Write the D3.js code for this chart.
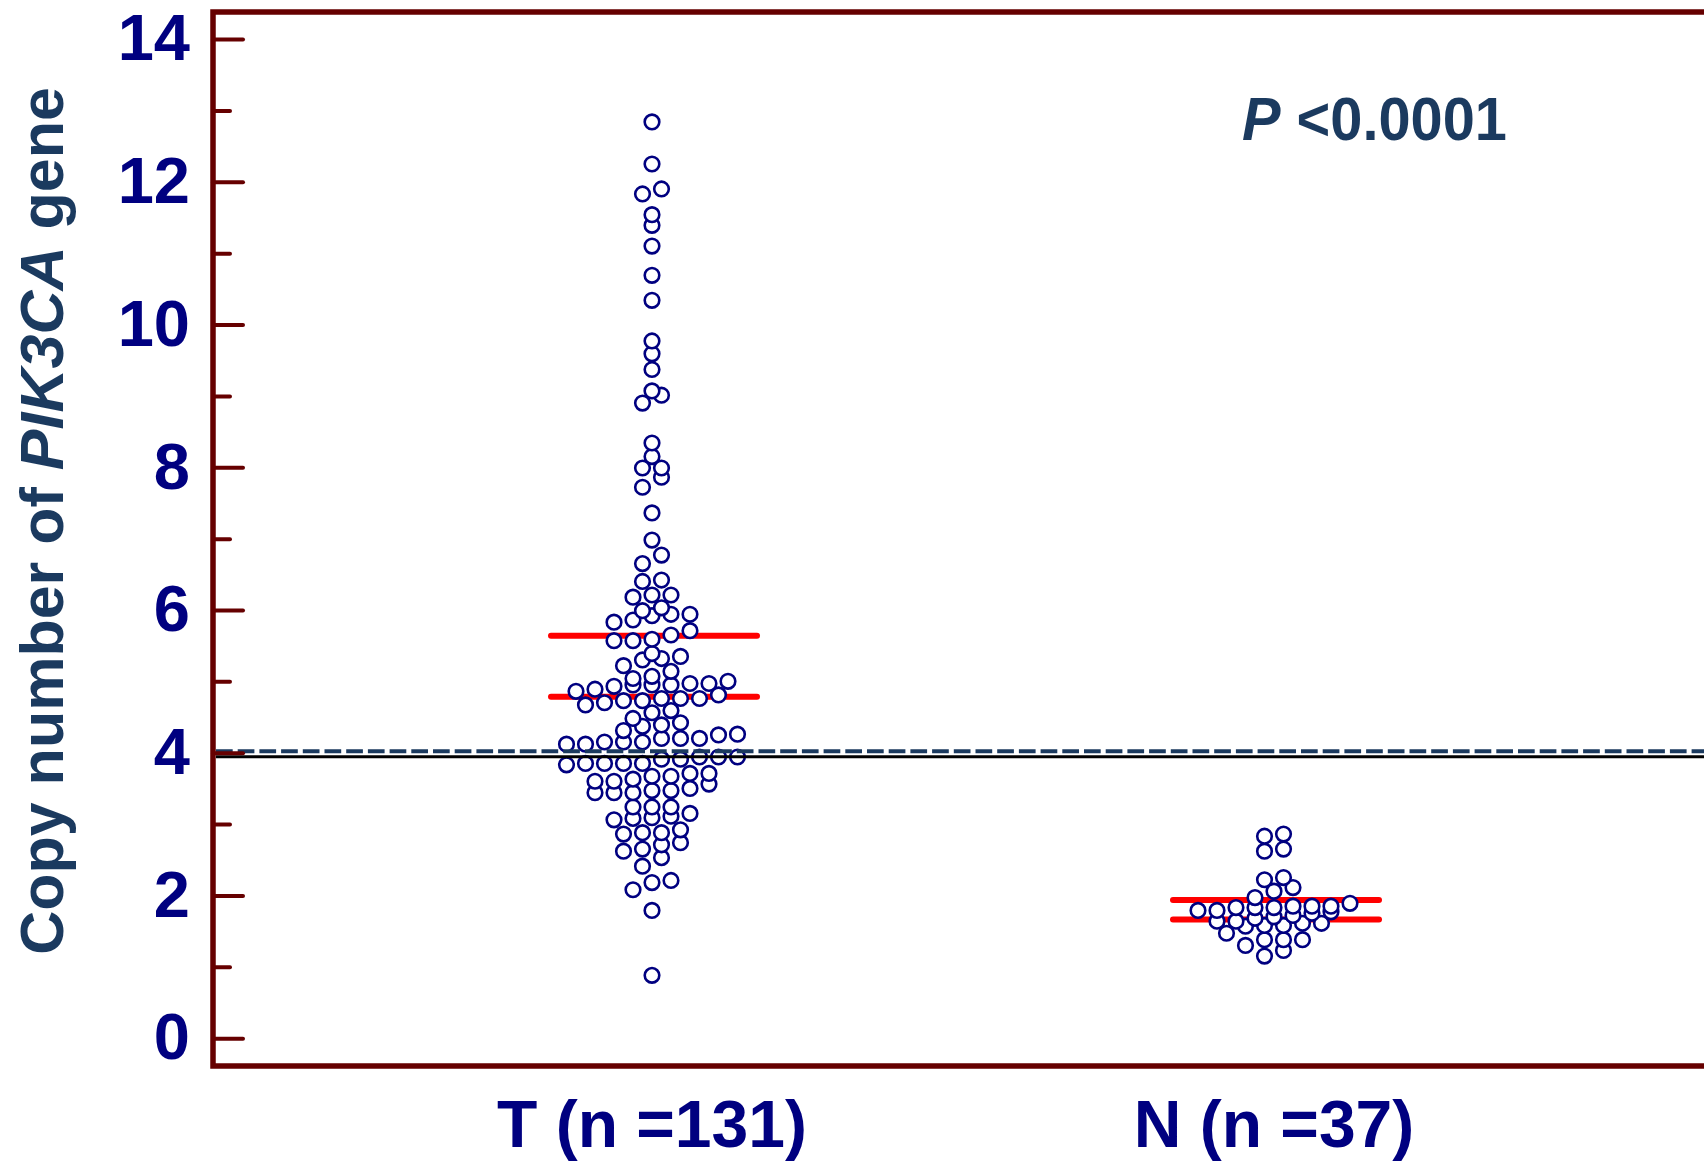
<!DOCTYPE html>
<html>
<head>
<meta charset="utf-8">
<script src="https://cdn.jsdelivr.net/npm/d3@7"></script>
<style>
  body { margin: 0; background: #fff; }
  svg text { font-family: "Liberation Sans", Arial, sans-serif; font-weight: bold; }
</style>
</head>
<body>
<div id="chart"></div>
<script>
const groups = ["T", "N"];
const groupLabels = ["T (n =131)", "N (n =37)"];

// copy numbers
const tumourValues = [
  12.84, 12.25, 11.83, 11.90, 11.54, 11.39, 11.10, 10.69, 10.34, 9.77, 9.59, 9.37,
  8.90, 9.01, 9.07, 8.34, 8.15, 7.99, 7.99, 7.72, 7.86, 7.36, 6.98, 6.65, 6.77,
  6.40, 6.42, 6.18, 6.21, 6.21, 5.99, 6.03, 5.83, 5.86, 5.92, 5.94, 5.94,
  5.57, 5.57, 5.59, 5.65, 5.71, 5.39, 5.22, 5.30, 5.32, 5.35, 5.04, 5.07, 5.14,
  4.86, 4.89, 4.93, 4.95, 4.95, 4.95, 4.97, 4.97, 5.00,
  4.67, 4.70, 4.73, 4.73, 4.76, 4.76, 4.76, 4.81,
  4.48, 4.56, 4.59, 4.31, 4.37, 4.39, 4.42,
  4.12, 4.12, 4.15, 4.15, 4.15, 4.20, 4.20, 4.20, 4.25, 4.26,
  3.83, 3.85, 3.85, 3.85, 3.85, 3.91, 3.91, 3.94, 3.94, 3.94,
  3.60, 3.60, 3.63, 3.67, 3.67, 3.71, 3.71,
  3.44, 3.44, 3.44, 3.47, 3.47, 3.50, 3.56,
  3.24, 3.24, 3.24, 3.06, 3.08, 3.09, 3.11, 3.15,
  2.86, 2.88, 2.88, 2.92, 2.62, 2.65, 2.71, 2.74,
  2.41, 2.53, 2.08, 2.18, 2.21, 1.79, 0.88
];
const normalValues = [
  2.83, 2.86, 2.62, 2.65, 2.22, 2.25, 1.97, 2.06, 2.11,
  1.79, 1.79, 1.83, 1.83, 1.83, 1.85, 1.85, 1.85, 1.89,
  1.64, 1.64, 1.68, 1.70, 1.72, 1.75, 1.77,
  1.47, 1.57, 1.58, 1.58, 1.61, 1.61,
  1.30, 1.38, 1.38, 1.38, 1.15, 1.23
];
const meanValues = [5.64, 1.935];
const medianValues = [4.785, 1.664];
const cutoff = 4;
const majorTicks = [0, 2, 4, 6, 8, 10, 12, 14];
const minorTicks = [1, 3, 5, 7, 9, 11, 13];
const pText = "<0.0001";

const W = 1704, H = 1162;
const plotLeft = 213, plotTop = 12, plotBottom = 1066;
const navy = "#000080", slate = "#1b3a5f", frame = "#660000";

const svg = d3.select("#chart").append("svg")
  .attr("width", W).attr("height", H);

const y = d3.scaleLinear().domain([-0.39, 14.38]).range([plotBottom, plotTop]);
const x = d3.scalePoint().domain(groups).range([652, 1274]);

// rows of nearly equal values are spread sideways, sorted left to right
function swarm(values, group) {
  const sorted = values.slice().sort(d3.ascending);
  const rows = [];
  let cur = null;
  sorted.forEach(v => {
    if (!cur || v - cur.start >= 0.145 - 1e-9) { cur = { start: v, items: [] }; rows.push(cur); }
    cur.items.push(v);
  });
  return rows.flatMap(r => r.items.map((v, i) => ({
    group, value: v, slot: i - (r.items.length - 1) / 2
  })));
}
const points = swarm(tumourValues, "T").concat(swarm(normalValues, "N"));

// red summary lines
const lines = groups.flatMap((g, i) => [meanValues[i], medianValues[i]].map(v => ({ g, v })));
svg.append("g").selectAll("line").data(lines).enter().append("line")
  .attr("x1", d => x(d.g) - 101).attr("x2", d => x(d.g) + 105)
  .attr("y1", d => y(d.v)).attr("y2", d => y(d.v))
  .attr("stroke", "#ff0000").attr("stroke-width", 6).attr("stroke-linecap", "round");

svg.append("g").selectAll("circle").data(points).enter().append("circle")
  .attr("cx", d => x(d.group) + d.slot * 19)
  .attr("cy", d => y(d.value))
  .attr("r", 7.3)
  .attr("fill", "#fff")
  .attr("stroke", navy)
  .attr("stroke-width", 2.6);

// cut-off at 4 copies
svg.append("line")
  .attr("x1", plotLeft + 3).attr("x2", W)
  .attr("y1", y(cutoff) + 4).attr("y2", y(cutoff) + 4)
  .attr("stroke", "#000").attr("stroke-width", 3);
svg.append("line")
  .attr("x1", plotLeft + 3).attr("x2", W)
  .attr("y1", y(cutoff) - 1.5).attr("y2", y(cutoff) - 1.5)
  .attr("stroke", slate).attr("stroke-width", 4)
  .attr("stroke-dasharray", "16.7,5");

// axes
const axis = svg.append("g").attr("transform", `translate(${plotLeft},0)`)
  .call(d3.axisLeft(y).tickValues(majorTicks).tickSizeInner(-30).tickSizeOuter(0).tickPadding(23));
axis.select(".domain").remove();
axis.selectAll(".tick line").attr("stroke", frame).attr("stroke-width", 4).attr("stroke-linecap", "round");
axis.selectAll(".tick text").attr("fill", navy).attr("font-size", 65).attr("font-family", "Liberation Sans, Arial, sans-serif");

const minor = svg.append("g").attr("transform", `translate(${plotLeft},0)`)
  .call(d3.axisLeft(y).tickValues(minorTicks).tickSizeInner(-17).tickSizeOuter(0).tickFormat(""));
minor.select(".domain").remove();
minor.selectAll(".tick line").attr("stroke", frame).attr("stroke-width", 4).attr("stroke-linecap", "round");

// frame
svg.append("path")
  .attr("d", `M${W},${plotTop}H${plotLeft}V${plotBottom}H${W}`)
  .attr("fill", "none").attr("stroke", frame).attr("stroke-width", 5.5);

// category labels
svg.append("g").selectAll("text").data(groups).enter().append("text")
  .attr("x", d => x(d)).attr("y", 1147)
  .attr("text-anchor", "middle")
  .attr("fill", navy).attr("font-size", 66)
  .text((d, i) => groupLabels[i]);

// y title
const title = svg.append("text")
  .attr("transform", "translate(63,521) rotate(-90)")
  .attr("text-anchor", "middle")
  .attr("fill", slate).attr("font-size", 61);
title.append("tspan").text("Copy number of ");
title.append("tspan").attr("font-style", "italic").text("PIK3CA");
title.append("tspan").text(" gene");

// p value
const p = svg.append("text")
  .attr("x", 1242).attr("y", 140)
  .attr("fill", slate).attr("font-size", 62)
  .attr("textLength", 265).attr("lengthAdjust", "spacingAndGlyphs");
p.append("tspan").attr("font-style", "italic").text("P");
p.append("tspan").text(" " + pText);
</script>
</body>
</html>
